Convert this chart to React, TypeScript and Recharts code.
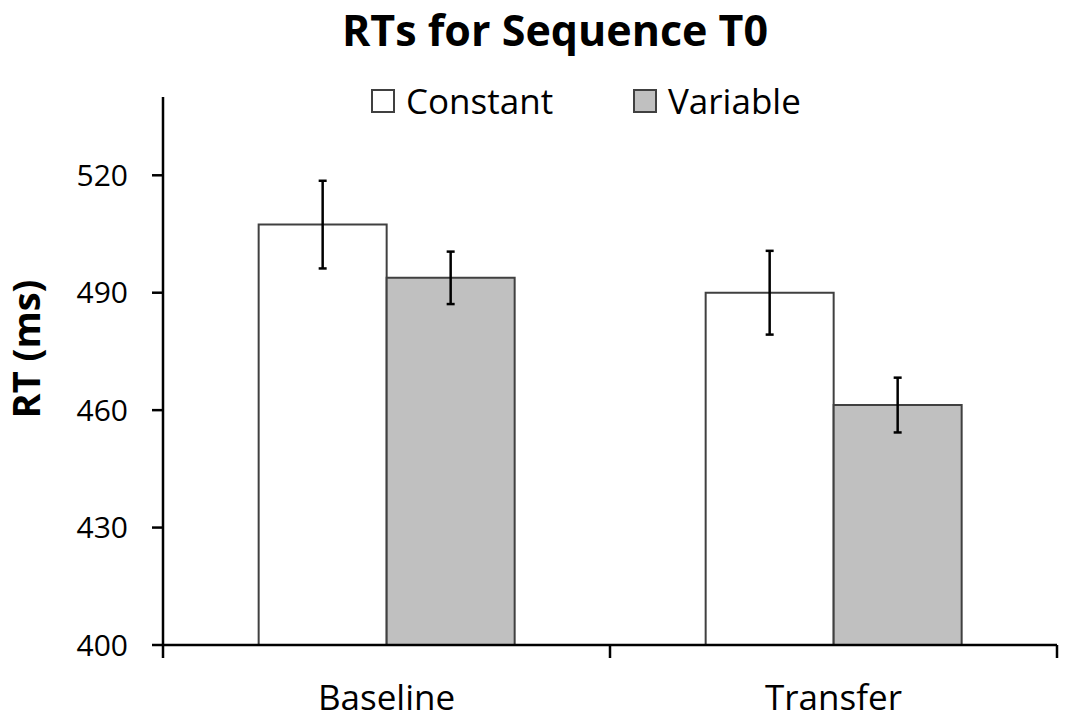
import React from "react";
import { BarChart, Bar, XAxis, YAxis, ErrorBar, Legend, Label } from "recharts";

const FONT = "'Open Sans', Lato, sans-serif";

const phases = ["Baseline", "Transfer"];
const constantRT = [507.4, 490.0];
const constantSE = [11.2, 10.7];
const variableRT = [493.8, 461.3];
const variableSE = [6.7, 7.0];
const yTicks = [400, 430, 460, 490, 520];

const data = phases.map((phase, i) => ({
  phase,
  constant: constantRT[i],
  constantErr: constantSE[i],
  variable: variableRT[i],
  variableErr: variableSE[i],
}));

const fills: Record<string, string> = { constant: "#ffffff", variable: "#c0c0c0" };
const EDGE = "#404040";

// category axis: Excel-style tick marks sit between the categories
const PhaseTick = (props: any) => {
  const { x, y, payload, index, visibleTicksCount } = props;
  const half = payload.offset ?? 0;
  return (
    <g>
      <line x1={x - half} y1={y} x2={x - half} y2={y + 13} stroke="#000" strokeWidth={2.5} />
      {index === visibleTicksCount - 1 && (
        <line x1={x + half} y1={y} x2={x + half} y2={y + 13} stroke="#000" strokeWidth={2.5} />
      )}
      <text x={x} y={y + 65} textAnchor="middle" fontFamily={FONT} fontSize={35} fill="#000">
        {payload.value}
      </text>
    </g>
  );
};

const LegendContent = ({ payload }: any) => (
  <div style={{ display: "flex", alignItems: "center", marginLeft: 371, fontFamily: FONT, fontSize: 35 }}>
    {(payload || []).map((entry: any) => (
      <div key={entry.value} style={{ display: "flex", alignItems: "center", width: 262 }}>
        <span
          style={{
            display: "inline-block",
            width: 20,
            height: 20,
            border: `2px solid ${EDGE}`,
            background: fills[entry.dataKey],
          }}
        />
        <span style={{ marginLeft: 11, color: "#000" }}>{entry.value}</span>
      </div>
    ))}
  </div>
);

export default function App() {
  return (
    <div style={{ position: "absolute", left: 0, top: 0, width: 1066, height: 720, background: "#fff" }}>
      <svg width={1066} height={64} style={{ position: "absolute", left: 0, top: 0 }}>
        <text x={555} y={46} textAnchor="middle" fontFamily={FONT} fontWeight={700} fontSize={43} fill="#000">
          RTs for Sequence T0
        </text>
      </svg>
      <BarChart
        width={1066}
        height={720}
        data={data}
        margin={{ top: 97, right: 9, bottom: 0, left: 0 }}
        barCategoryGap="21.4%"
        barGap={0}
      >
        <XAxis
          dataKey="phase"
          height={75}
          interval={0}
          tickLine={false}
          tickSize={0}
          tickMargin={0}
          axisLine={{ stroke: "#000", strokeWidth: 2.5 }}
          tick={<PhaseTick />}
        />
        <YAxis
          width={163}
          domain={[400, 540]}
          ticks={yTicks}
          allowDataOverflow
          tickSize={11}
          tickMargin={24}
          axisLine={{ stroke: "#000", strokeWidth: 2.5 }}
          tickLine={{ stroke: "#000", strokeWidth: 2.5 }}
          tick={{ fontFamily: FONT, fontSize: 30, fill: "#000" }}
        >
          <Label
            content={({ viewBox }: any) => {
              const cx = viewBox.x + 25;
              const cy = viewBox.y + viewBox.height / 2 - 22;
              return (
                <text
                  x={cx}
                  y={cy}
                  transform={`rotate(-90, ${cx}, ${cy})`}
                  textAnchor="middle"
                  dominantBaseline="central"
                  fontFamily={FONT}
                  fontWeight={700}
                  fontSize={38}
                  fill="#000"
                >
                  RT (ms)
                </text>
              );
            }}
          />
        </YAxis>
        <Legend
          layout="horizontal"
          verticalAlign="middle"
          align="center"
          wrapperStyle={{ top: 77, left: 0, width: 1066 }}
          content={<LegendContent />}
        />
        <Bar
          dataKey="constant"
          name="Constant"
          fill={fills.constant}
          stroke={EDGE}
          strokeWidth={2}
          isAnimationActive={false}
        >
          <ErrorBar dataKey="constantErr" width={4} stroke="#000" strokeWidth={2.5} direction="y" />
        </Bar>
        <Bar
          dataKey="variable"
          name="Variable"
          fill={fills.variable}
          stroke={EDGE}
          strokeWidth={2}
          isAnimationActive={false}
        >
          <ErrorBar dataKey="variableErr" width={4} stroke="#000" strokeWidth={2.5} direction="y" />
        </Bar>
      </BarChart>
    </div>
  );
}
